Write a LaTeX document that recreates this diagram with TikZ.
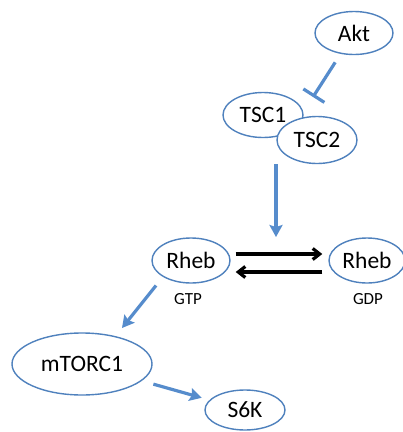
\documentclass[tikz,border=0pt]{standalone}
\usepackage{fontspec}
\setmainfont{Carlito}
\usetikzlibrary{shapes.geometric,arrows.meta}
\definecolor{nodeblue}{RGB}{79,129,189}
\definecolor{arrowblue}{RGB}{86,140,204}

\begin{document}
\begin{tikzpicture}[x=1pt,y=-1pt,
  mol/.style={ellipse,draw=nodeblue,line width=1.4pt,fill=white,inner sep=0pt,
    font=\fontsize{23.5}{27}\selectfont},
  act/.style={draw=arrowblue,line width=3.2pt,-{Stealth[length=12pt,width=13pt,inset=2pt]}},
  inhib/.style={draw=arrowblue,line width=3.2pt,-{Bar[width=25pt]}},
  conv/.style={black,line width=3.2pt,-{Straight Barb[length=7pt,width=11pt]}},
  state/.style={inner sep=0pt,font=\fontsize{17}{20}\selectfont}]
\useasboundingbox (0,0) rectangle (403,432);
\node[mol,minimum width=78pt,minimum height=43pt] (akt) at (354,33) {Akt};
\node[mol,minimum width=80pt,minimum height=45pt] (tsc1) at (263,115) {TSC1};
\node[mol,minimum width=80pt,minimum height=47pt] (tsc2) at (317,140) {TSC2};
\node[mol,minimum width=78pt,minimum height=45pt] (rhebgtp) at (191,260.5) {Rheb};
\node[mol,minimum width=76pt,minimum height=45pt] (rhebgdp) at (367,260.5) {Rheb};
\node[state] (gtp) at (188,299) {GTP};
\node[state] (gdp) at (368,299) {GDP};
\node[mol,minimum width=140pt,minimum height=62pt] (mtorc1) at (82,364) {mTORC1};
\node[mol,minimum width=80pt,minimum height=40pt] (s6k) at (245,410) {S6K};
\coordinate (aktbar) at (313,97);
\coordinate (rhebin) at (276,237);
\coordinate (mtorcin) at (122,328);
\draw[inhib,shorten <=10pt] (akt) -- (aktbar);
\draw[act] (tsc2.south -| rhebin) -- (rhebin);
\draw[conv,shorten <=5pt,shorten >=6pt] ([yshift=6.5pt]rhebgtp.east) -- ([yshift=6.5pt]rhebgdp.west);
\draw[conv,shorten <=6pt,shorten >=5pt] ([yshift=-11.5pt]rhebgdp.west) -- ([yshift=-11.5pt]rhebgtp.east);
\draw[act,shorten <=11pt] (rhebgtp.south west) -- (mtorcin);
\draw[act,shorten <=12pt,shorten >=8pt] (mtorc1) -- (s6k);
\end{tikzpicture}
\end{document}
